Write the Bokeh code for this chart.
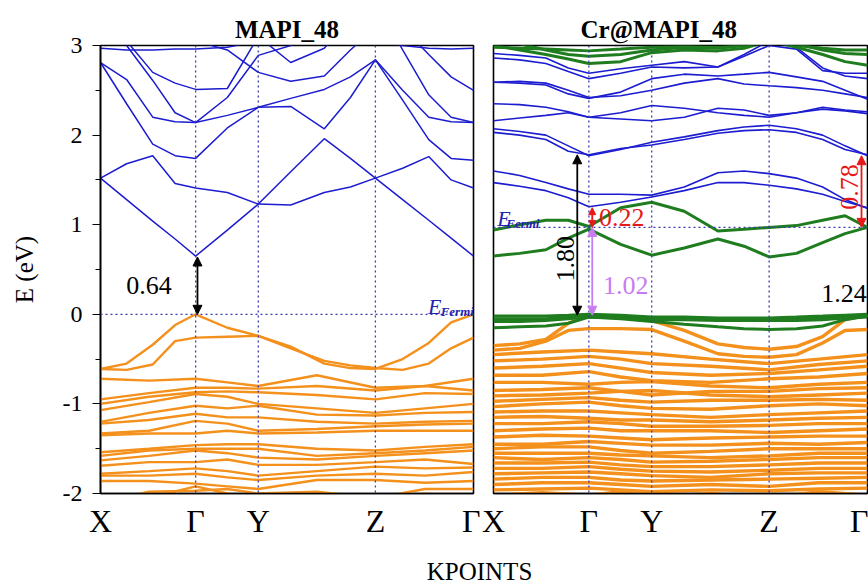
import math
from bokeh.plotting import figure
from bokeh.layouts import row, column
from bokeh.models import Range1d, FixedTicker, Span, Label, Arrow, NormalHead
from bokeh.embed import file_html
from bokeh.resources import INLINE

# ---------------- data ----------------
K15 = [0, 70, 140, 200, 255, 340, 423, 510, 600, 670, 737, 810, 880, 940, 1000]
K9 = [0, 130, 255, 340, 423, 580, 737, 870, 1000]
KTICKS = [0, 255, 423, 737, 1000]
KLABELS = ["X", "\u0393", "Y", "Z", "\u0393"]
E_TICKS = [-2, -1, 0, 1, 2, 3]
E_LABELS = ["-2", "-1", "0", "1", "2", "3"]
E_MINOR = [-1.5, -0.5, 0.5, 1.5, 2.5]

# MAPI_48 conduction bands (on K15)
mapi_cb = [
    [1.52, 1.28, 1.04, 0.84, 0.65, 0.94, 1.23, 1.59, 1.96, 1.74, 1.52, 1.28, 1.05, 0.85, 0.65],
    [1.52, 1.68, 1.77, 1.46, 1.41, 1.36, 1.23, 1.22, 1.36, 1.42, 1.52, 1.63, 1.76, 1.50, 1.41],
    [2.81, 2.35, 1.90, 1.77, 1.74, 2.08, 2.31, 2.32, 2.07, 2.42, 2.84, 2.39, 1.95, 1.74, 1.72],
    [2.81, 2.62, 2.20, 2.15, 2.14, 2.22, 2.31, 2.41, 2.51, 2.65, 2.84, 2.50, 2.20, 2.15, 2.14],
    [3.30, 3.05, 2.70, 2.58, 2.51, 2.52, 3.10, 2.81, 2.97, 3.30, 3.40, 3.20, 2.90, 2.65, 2.50],
    [3.40, 3.00, 2.61, 2.25, 2.14, 2.42, 2.89, 3.00, 3.20, 3.40, 3.50, 2.95, 2.45, 2.20, 2.14],
    [2.97, 2.95, 2.95, 2.96, 2.96, 2.98, 3.05, 3.10, 3.10, 3.10, 3.05, 3.00, 2.97, 2.96, 2.97],
    [3.30, 3.30, 3.20, 3.10, 3.05, 2.95, 2.70, 2.60, 2.66, 2.95, 3.20, 3.40, 3.40, 3.40, 3.40],
]
# MAPI_48 top valence bands (on K15)
mapi_vb_top = [
    [-0.61, -0.55, -0.34, -0.12, 0.00, -0.15, -0.24, -0.36, -0.55, -0.60, -0.61, -0.50, -0.32, -0.09, 0.00],
    [-0.61, -0.62, -0.56, -0.30, -0.26, -0.25, -0.24, -0.38, -0.52, -0.57, -0.60, -0.62, -0.55, -0.38, -0.26],
]
# MAPI_48 deeper valence bands (on K9)
mapi_vb = [
    [-0.72, -0.74, -0.72, -0.76, -0.80, -0.68, -0.82, -0.80, -0.72],
    [-0.95, -0.88, -0.82, -0.82, -0.83, -0.80, -0.85, -0.80, -0.85],
    [-1.00, -0.92, -0.87, -0.86, -0.87, -0.90, -0.95, -0.88, -0.89],
    [-1.07, -0.98, -0.89, -0.92, -1.00, -1.05, -1.10, -1.05, -1.00],
    [-1.20, -1.10, -1.02, -1.05, -1.02, -1.12, -1.13, -1.10, -1.09],
    [-1.22, -1.18, -1.11, -1.15, -1.15, -1.20, -1.22, -1.20, -1.19],
    [-1.33, -1.30, -1.19, -1.22, -1.30, -1.28, -1.25, -1.23, -1.22],
    [-1.35, -1.33, -1.33, -1.30, -1.33, -1.32, -1.30, -1.30, -1.30],
    [-1.54, -1.50, -1.46, -1.45, -1.45, -1.50, -1.52, -1.48, -1.45],
    [-1.58, -1.52, -1.50, -1.50, -1.50, -1.58, -1.55, -1.52, -1.48],
    [-1.63, -1.58, -1.52, -1.55, -1.60, -1.62, -1.58, -1.55, -1.52],
    [-1.69, -1.65, -1.65, -1.62, -1.68, -1.68, -1.65, -1.62, -1.67],
    [-1.78, -1.75, -1.72, -1.75, -1.80, -1.75, -1.70, -1.72, -1.71],
    [-1.80, -1.80, -1.78, -1.82, -1.85, -1.80, -1.78, -1.80, -1.76],
    [-1.86, -1.86, -1.89, -1.92, -1.95, -1.85, -1.85, -1.88, -1.86],
    [-2.10, -1.98, -1.97, -1.95, -2.00, -1.98, -2.05, -1.95, -1.95],
    [-2.20, -2.05, -1.92, -2.00, -2.05, -2.10, -2.10, -2.00, -2.05],
]

# Cr@MAPI_48 conduction bands, blue (on K15)
cr_cb = [
    [1.60, 1.55, 1.47, 1.40, 1.34, 1.34, 1.33, 1.42, 1.58, 1.60, 1.57, 1.52, 1.42, 1.28, 1.18],
    [1.47, 1.43, 1.38, 1.30, 1.20, 1.25, 1.31, 1.38, 1.47, 1.47, 1.44, 1.40, 1.34, 1.26, 1.19],
    [2.07, 2.04, 2.00, 1.88, 1.77, 1.84, 1.92, 1.98, 2.05, 2.09, 2.11, 2.07, 2.00, 1.88, 1.77],
    [2.03, 2.00, 1.95, 1.82, 1.78, 1.85, 1.89, 1.95, 2.02, 2.05, 2.06, 2.03, 1.95, 1.84, 1.78],
    [2.35, 2.34, 2.31, 2.26, 2.20, 2.18, 2.16, 2.20, 2.30, 2.28, 2.22, 2.25, 2.29, 2.27, 2.24],
    [2.16, 2.19, 2.22, 2.25, 2.20, 2.25, 2.33, 2.30, 2.25, 2.22, 2.20, 2.25, 2.31, 2.28, 2.26],
    [2.59, 2.60, 2.58, 2.50, 2.42, 2.44, 2.50, 2.58, 2.63, 2.57, 2.55, 2.53, 2.50, 2.46, 2.42],
    [2.59, 2.58, 2.56, 2.46, 2.41, 2.48, 2.63, 2.68, 2.66, 2.68, 2.70, 2.65, 2.60, 2.50, 2.40],
    [2.86, 2.84, 2.80, 2.71, 2.63, 2.69, 2.76, 2.75, 2.76, 2.90, 3.05, 2.98, 2.75, 2.66, 2.63],
    [2.91, 2.89, 2.86, 2.75, 2.69, 2.74, 2.78, 2.82, 2.76, 2.88, 3.00, 2.96, 2.72, 2.69, 2.69],
]
# Cr@MAPI_48 Cr-derived bands, green (on K15)
cr_green = [
    [3.00, 2.95, 2.90, 2.85, 2.80, 2.82, 2.92, 2.95, 2.94, 2.97, 3.05, 2.98, 2.90, 2.82, 2.78],
    [3.05, 3.02, 2.95, 2.90, 2.88, 2.90, 2.95, 2.98, 2.97, 3.00, 3.05, 3.02, 2.95, 2.91, 2.90],
    [2.98, 2.97, 2.96, 2.95, 2.94, 2.96, 2.98, 2.99, 2.98, 3.00, 3.05, 3.00, 2.97, 2.95, 2.95],
    [0.94, 1.00, 1.05, 1.05, 0.98, 1.19, 1.25, 1.15, 0.93, 0.95, 0.97, 0.99, 1.05, 1.10, 0.97],
    [0.65, 0.68, 0.72, 0.85, 0.95, 0.78, 0.66, 0.74, 0.84, 0.76, 0.64, 0.68, 0.80, 0.90, 0.97],
    [-0.02, -0.02, -0.02, -0.01, 0.00, -0.01, -0.03, -0.03, -0.04, -0.04, -0.04, -0.03, -0.02, -0.01, 0.00],
    [-0.05, -0.05, -0.05, -0.03, -0.01, -0.03, -0.05, -0.05, -0.05, -0.05, -0.05, -0.05, -0.04, -0.02, -0.01],
    [-0.15, -0.14, -0.13, -0.10, -0.03, -0.05, -0.08, -0.11, -0.14, -0.16, -0.17, -0.16, -0.13, -0.06, -0.02],
    [-0.08, -0.08, -0.07, -0.05, -0.03, -0.04, -0.06, -0.06, -0.07, -0.07, -0.07, -0.07, -0.06, -0.04, -0.03],
]
# Cr@MAPI_48 top valence bands (on K15)
cr_vb_top = [
    [-0.35, -0.33, -0.28, -0.10, -0.01, -0.04, -0.07, -0.18, -0.33, -0.37, -0.39, -0.36, -0.25, -0.06, -0.01],
    [-0.40, -0.38, -0.30, -0.18, -0.16, -0.16, -0.17, -0.30, -0.44, -0.47, -0.48, -0.45, -0.32, -0.18, -0.17],
]
# Cr@MAPI_48 deeper valence bands (on K9)
cr_vb = [
    [-0.45, -0.42, -0.40, -0.42, -0.44, -0.50, -0.55, -0.50, -0.45],
    [-0.52, -0.50, -0.47, -0.50, -0.55, -0.58, -0.62, -0.56, -0.52],
    [-0.60, -0.58, -0.55, -0.60, -0.65, -0.68, -0.66, -0.62, -0.58],
    [-0.68, -0.68, -0.64, -0.70, -0.74, -0.76, -0.72, -0.70, -0.66],
    [-0.76, -0.76, -0.78, -0.76, -0.75, -0.80, -0.82, -0.78, -0.76],
    [-0.85, -0.84, -0.82, -0.86, -0.90, -0.86, -0.86, -0.83, -0.82],
    [-0.91, -0.90, -0.88, -0.86, -0.85, -0.90, -0.92, -0.90, -0.88],
    [-0.97, -0.95, -0.93, -0.96, -0.98, -0.96, -0.96, -0.95, -0.96],
    [-1.03, -1.00, -0.98, -1.02, -1.05, -1.06, -1.02, -1.00, -1.02],
    [-1.09, -1.08, -1.08, -1.10, -1.12, -1.15, -1.12, -1.10, -1.08],
    [-1.15, -1.14, -1.16, -1.18, -1.18, -1.20, -1.18, -1.16, -1.15],
    [-1.22, -1.22, -1.20, -1.22, -1.25, -1.25, -1.24, -1.22, -1.22],
    [-1.30, -1.28, -1.27, -1.30, -1.30, -1.30, -1.32, -1.30, -1.28],
    [-1.37, -1.35, -1.36, -1.38, -1.40, -1.38, -1.37, -1.36, -1.36],
    [-1.45, -1.45, -1.42, -1.44, -1.46, -1.46, -1.44, -1.45, -1.43],
    [-1.50, -1.48, -1.48, -1.52, -1.55, -1.53, -1.50, -1.50, -1.50],
    [-1.55, -1.55, -1.55, -1.57, -1.58, -1.60, -1.58, -1.55, -1.55],
    [-1.60, -1.62, -1.60, -1.62, -1.65, -1.64, -1.62, -1.60, -1.60],
    [-1.66, -1.66, -1.65, -1.68, -1.70, -1.70, -1.68, -1.66, -1.66],
    [-1.72, -1.72, -1.70, -1.73, -1.75, -1.76, -1.74, -1.72, -1.72],
    [-1.78, -1.77, -1.76, -1.78, -1.80, -1.82, -1.78, -1.77, -1.77],
    [-1.84, -1.82, -1.82, -1.85, -1.86, -1.85, -1.84, -1.83, -1.82],
    [-1.90, -1.88, -1.88, -1.90, -1.92, -1.90, -1.92, -1.88, -1.88],
    [-1.96, -1.95, -1.94, -1.96, -1.98, -1.96, -1.97, -1.95, -1.94],
    [-2.02, -1.99, -2.02, -1.98, -2.04, -2.00, -2.05, -1.98, -2.02],
]

# gaps / levels
mapi_vbm, mapi_cbm = 0.00, 0.64
cr_fermi = 0.97
cr_vbm = -0.01
cr_cbm_gamma = 1.78
cr_gap_green_blue = (0.97, 1.19)
cr_gap_right = (0.97, 1.77)
gap_texts = {"mapi": "0.64", "total": "1.80", "up": "0.22", "mid": "1.02", "right": "0.78", "extra": "1.24"}

# ---------------- style ----------------
SERIF = "Liberation Serif"
BLUE = "#1c1cd0"
ORANGE = "#f4901c"
GREEN = "#1f7d1f"
VIOLET = "#c77cf0"
RED = "#e61919"
DOT = "#3b3bb0"
INK = "#000000"


def base_fig(width, min_left, min_right, title):
    p = figure(width=width, height=545, x_range=Range1d(0, 1000), y_range=Range1d(-2, 3),
               output_backend="svg", toolbar_location=None, title=title,
               min_border_left=min_left, min_border_right=min_right,
               min_border_top=45, min_border_bottom=52)
    p.xgrid.visible = False
    p.ygrid.visible = False
    p.outline_line_color = "black"
    p.outline_line_width = 1.6
    p.outline_line_alpha = 1.0
    p.title.text_font = SERIF
    p.title.text_font_size = "25px"
    p.title.text_font_style = "bold"
    p.title.text_color = INK
    p.title.standoff = 6
    xa = p.xaxis[0]
    xa.ticker = FixedTicker(ticks=KTICKS)
    xa.major_label_overrides = {k: s for k, s in zip(KTICKS, KLABELS)}
    xa.major_tick_out = 0
    xa.major_tick_in = 0
    xa.minor_tick_out = 0
    xa.minor_tick_in = 0
    xa.axis_line_width = 1.6
    xa.axis_line_color = INK
    xa.major_label_text_font = SERIF
    xa.major_label_text_font_size = "32px"
    xa.major_label_text_color = INK
    xa.major_label_standoff = 9
    for k in KTICKS[1:4]:
        p.add_layout(Span(location=k, dimension="height", line_color=DOT,
                          line_dash="2 3", line_width=1.3))
    return p


# ---------------- left panel ----------------
p1 = base_fig(480, 100, 7, "MAPI_48")
p1.title.align = "center"
ya = p1.yaxis[0]
ya.ticker = FixedTicker(ticks=E_TICKS, minor_ticks=E_MINOR)
ya.major_label_overrides = {t: s for t, s in zip(E_TICKS, E_LABELS)}
ya.major_tick_out = 8
ya.major_tick_in = 0
ya.minor_tick_out = 5
ya.minor_tick_in = 0
ya.axis_line_width = 1.6
ya.axis_line_color = INK
ya.major_tick_line_color = INK
ya.minor_tick_line_color = INK
ya.major_label_text_font = SERIF
ya.major_label_text_font_size = "24px"
ya.major_label_text_color = INK
ya.major_label_standoff = 10
ya.axis_label = "E (eV)"
ya.axis_label_text_font = SERIF
ya.axis_label_text_font_size = "25px"
ya.axis_label_text_font_style = "normal"
ya.axis_label_text_color = INK
ya.axis_label_standoff = 22

p1.add_layout(Span(location=mapi_vbm, dimension="width", line_color=DOT,
                   line_dash="2 3", line_width=1.3))
p1.multi_line(xs=[K9] * len(mapi_vb), ys=mapi_vb, line_color=ORANGE, line_width=2.4)
p1.multi_line(xs=[K15] * len(mapi_vb_top), ys=mapi_vb_top, line_color=ORANGE, line_width=2.4)
p1.multi_line(xs=[K15] * len(mapi_cb), ys=mapi_cb, line_color=BLUE, line_width=1.5)

head = dict(size=9, fill_color="black", line_color="black")
p1.add_layout(Arrow(start=NormalHead(**head), end=NormalHead(**head),
                    x_start=KTICKS[1] + 5, y_start=mapi_vbm, x_end=KTICKS[1] + 5, y_end=mapi_cbm,
                    line_color="black", line_width=1.8))
p1.add_layout(Label(x=130, y=(mapi_vbm + mapi_cbm) / 2, text=gap_texts["mapi"], text_font=SERIF,
                    text_font_size="26px", text_align="center", text_baseline="middle",
                    text_color=INK))
p1.add_layout(Label(x=878, y=0.09, text="E", text_font=SERIF, text_font_size="22px",
                    text_font_style="italic", text_color="#2323b0", text_baseline="alphabetic"))
p1.add_layout(Label(x=912, y=0.03, text="Fermi", text_font=SERIF, text_font_size="13px",
                    text_font_style="bold italic", text_color="#2323b0", text_baseline="alphabetic"))

# ---------------- right panel ----------------
p2 = base_fig(388, 13, 1, "Cr@MAPI_48")
p2.title.align = "left"
p2.title.offset = 87
p2.yaxis.visible = False
p2.add_layout(Span(location=cr_fermi, dimension="width", line_color=DOT,
                   line_dash="2 3", line_width=1.3))
p2.multi_line(xs=[K9] * len(cr_vb), ys=cr_vb, line_color=ORANGE, line_width=3.4)
p2.multi_line(xs=[K15] * len(cr_vb_top), ys=cr_vb_top, line_color=ORANGE, line_width=3.4)
p2.multi_line(xs=[K15] * len(cr_cb), ys=cr_cb, line_color=BLUE, line_width=1.6)
p2.multi_line(xs=[K15] * len(cr_green), ys=cr_green, line_color=GREEN, line_width=3.0)


def dbl_arrow(p, x, y0, y1, color, size=9):
    h = dict(size=size, fill_color=color, line_color=color)
    p.add_layout(Arrow(start=NormalHead(**h), end=NormalHead(**h), x_start=x, y_start=y0,
                       x_end=x, y_end=y1, line_color=color, line_width=1.8))


dbl_arrow(p2, 224, cr_vbm, cr_cbm_gamma, "black")
dbl_arrow(p2, 264, cr_vbm, cr_fermi, VIOLET)
dbl_arrow(p2, 264, cr_gap_green_blue[0], cr_gap_green_blue[1], RED, size=7)
dbl_arrow(p2, 984, cr_gap_right[0], cr_gap_right[1], RED)

p2.add_layout(Label(x=192, y=0.62, text=gap_texts["total"], text_font=SERIF, text_font_size="26px",
                    text_align="center", text_baseline="middle", angle=math.pi / 2,
                    text_color=INK))
p2.add_layout(Label(x=282, y=1.08, text=gap_texts["up"], text_font=SERIF, text_font_size="26px",
                    text_align="left", text_baseline="middle", text_color=RED))
p2.add_layout(Label(x=293, y=0.32, text=gap_texts["mid"], text_font=SERIF, text_font_size="26px",
                    text_align="left", text_baseline="middle", text_color=VIOLET))
p2.add_layout(Label(x=952, y=1.42, text=gap_texts["right"], text_font=SERIF, text_font_size="26px",
                    text_align="center", text_baseline="middle", angle=math.pi / 2, text_color=RED))
p2.add_layout(Label(x=998, y=0.23, text=gap_texts["extra"], text_font=SERIF, text_font_size="26px",
                    text_align="right", text_baseline="middle", text_color=INK))
p2.add_layout(Label(x=10, y=1.07, text="E", text_font=SERIF, text_font_size="22px",
                    text_font_style="italic", text_color="#2323b0", text_baseline="alphabetic"))
p2.add_layout(Label(x=34, y=1.01, text="Fermi", text_font=SERIF, text_font_size="13px",
                    text_font_style="bold italic", text_color="#2323b0", text_baseline="alphabetic"))

# ---------------- shared x label ----------------
p3 = figure(width=868, height=39, x_range=Range1d(0, 868), y_range=Range1d(0, 39),
            output_backend="svg", toolbar_location=None, min_border=0)
p3.axis.visible = False
p3.grid.visible = False
p3.outline_line_color = None
p3.add_layout(Label(x=479, y=13, text="KPOINTS", text_font=SERIF, text_font_size="25px",
                    text_align="center", text_baseline="middle", text_color=INK))

layout = column(row(p1, p2, spacing=0), p3, spacing=0)
open("out.html", "w").write(file_html(layout, INLINE))
